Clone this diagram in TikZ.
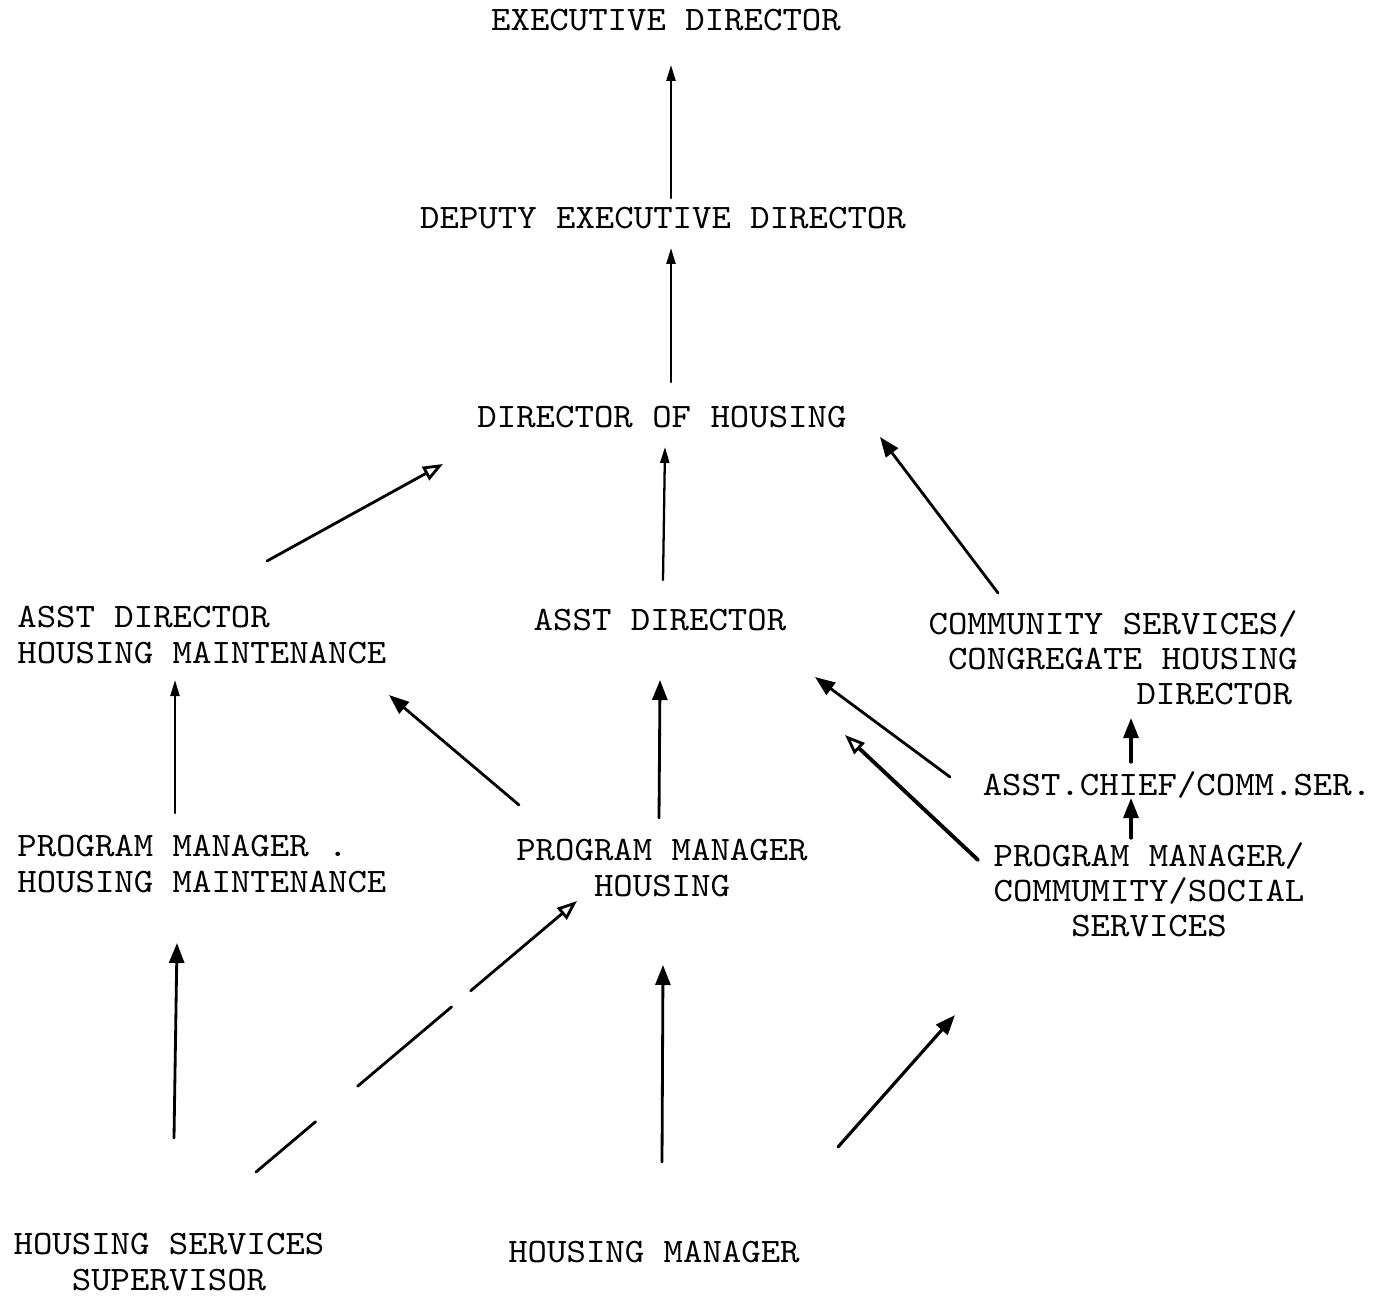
\documentclass[tikz,border=0pt]{standalone}
\usepackage{fontspec}
\newfontfamily\typewr{lmmono10-regular.otf}[FakeStretch=1.08]
\usetikzlibrary{arrows.meta,positioning}

\begin{document}
\begin{tikzpicture}[
    x=0.02cm, y=-0.02cm,
    post/.style={font=\typewr\fontsize{19.5}{20}\selectfont, inner sep=0pt, align=center},
    link/.style={-{Triangle[length=0.4cm, width=0.3cm]}, line width=1.6pt, line cap=round},
    thinlink/.style={-{Triangle[length=0.32cm, width=0.18cm]}, line width=1.3pt, line cap=round},
    hollow/.style={-{Triangle[open, length=0.4cm, width=0.3cm, line width=1.6pt]}, line width=1.6pt, line cap=round}
]
\useasboundingbox (0,0) rectangle (1395,1297);

% posts
\node[post] (exec) at (666,20) {EXECUTIVE DIRECTOR};
\node[post] (deputy) at (663,218) {DEPUTY EXECUTIVE DIRECTOR};
\node[post] (dirhous) at (662,417) {DIRECTOR OF HOUSING};
\node[post, anchor=west, align=left] (adhm) at (17,635) {ASST DIRECTOR\\HOUSING MAINTENANCE};
\node[post] (asstdir) at (660,620) {ASST DIRECTOR};
\node[post, anchor=east, align=right] (commdir) at (1298,658) {COMMUNITY SERVICES/\\CONGREGATE HOUSING\\DIRECTOR\,};
\node[post] (asstchief) at (1177,785) {ASST.CHIEF/COMM.SER.};
\node[post] (pmcomm) at (1149,890) {PROGRAM MANAGER/\\COMMUMITY/SOCIAL\\SERVICES};
\node[post, anchor=west, align=left] (pmhm) at (17,864) {PROGRAM MANAGER .\\HOUSING MAINTENANCE};
\node[post] (pmhous) at (662,868) {PROGRAM MANAGER\\HOUSING};
\node[post] (hss) at (169,1262) {HOUSING SERVICES\\SUPERVISOR};
\node[post] (hmgr) at (654,1252) {HOUSING MANAGER};

% arrow ends
\coordinate (deputy-t) at (671,198);   \coordinate (exec-b) at (671,65);
\coordinate (dirhous-t) at (671,382);  \coordinate (deputy-b) at (671,248);
\coordinate (adhm-t) at (267,561);     \coordinate (dirhous-bl) at (443,464);
\coordinate (asstdir-t) at (663,580);  \coordinate (dirhous-b) at (665,447);
\coordinate (commdir-t) at (998,593);  \coordinate (dirhous-br) at (880,437);
\coordinate (pmhm-t) at (175,813);     \coordinate (adhm-b) at (175,680);
\coordinate (pmhous-tl) at (519,805);  \coordinate (adhm-br) at (389,695);
\coordinate (pmhous-t) at (659,818);   \coordinate (asstdir-b) at (660,680);
\coordinate (asstchief-l) at (950,777); \coordinate (asstdir-br) at (815,677);
\coordinate (pmcomm-l) at (978,860);   \coordinate (asstdir-br2) at (845,735);
\coordinate (asstchief-t) at (1131,762); \coordinate (commdir-b) at (1131,718);
\coordinate (pmcomm-t) at (1131,838);  \coordinate (asstchief-b) at (1131,798);
\coordinate (hss-t) at (174,1138);     \coordinate (pmhm-b) at (177,943);
\coordinate (hss-tr) at (256,1172);    \coordinate (pmhous-bl) at (577,901);
\coordinate (hmgr-t) at (662,1162);    \coordinate (pmhous-b) at (663,965);
\coordinate (hmgr-tr) at (838,1147);   \coordinate (pmcomm-bl) at (955,1015);

% reporting lines
\draw[thinlink] (deputy-t) -- (exec-b);
\draw[thinlink] (dirhous-t) -- (deputy-b);
\draw[hollow] (adhm-t) -- (dirhous-bl);
\draw[thinlink] (asstdir-t) -- (dirhous-b);
\draw[link] (commdir-t) -- (dirhous-br);
\draw[thinlink] (pmhm-t) -- (adhm-b);
\draw[link] (pmhous-tl) -- (adhm-br);
\draw[link] (pmhous-t) -- (asstdir-b);
\draw[link] (asstchief-l) -- (asstdir-br);
\draw[hollow, line width=2.2pt] (pmcomm-l) -- (asstdir-br2);
\draw[link, line width=1.8pt] (asstchief-t) -- (commdir-b);
\draw[link, line width=1.8pt] (pmcomm-t) -- (asstchief-b);
\draw[link] (hss-t) -- (pmhm-b);
\draw[hollow, dash pattern=on 1.56cm off 1.1cm on 2.46cm off 0.5cm on 4cm] (hss-tr) -- (pmhous-bl);
\draw[link] (hmgr-t) -- (pmhous-b);
\draw[link, line width=1.8pt] (hmgr-tr) -- (pmcomm-bl);
\end{tikzpicture}
\end{document}
